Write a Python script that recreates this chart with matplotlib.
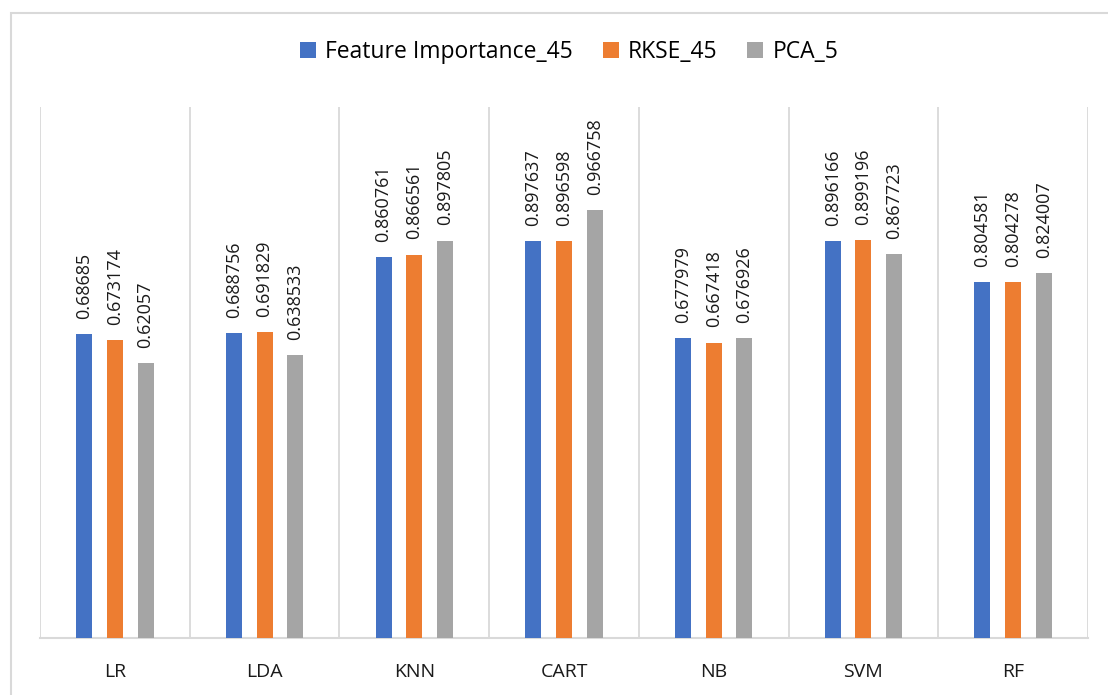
import numpy as np
import matplotlib.pyplot as plt
from matplotlib.patches import Rectangle

# model accuracy per feature-selection method
models = ["LR", "LDA", "KNN", "CART", "NB", "SVM", "RF"]
feature_importance_45 = [0.68685, 0.688756, 0.860761, 0.897637, 0.677979, 0.896166, 0.804581]
rkse_45 = [0.673174, 0.691829, 0.866561, 0.896598, 0.667418, 0.899196, 0.804278]
pca_5 = [0.62057, 0.638533, 0.897805, 0.966758, 0.676926, 0.867723, 0.824007]

series = [
    ("Feature Importance_45", feature_importance_45, "#4472C4"),
    ("RKSE_45", rkse_45, "#ED7D31"),
    ("PCA_5", pca_5, "#A5A5A5"),
]

plt.rcParams["font.family"] = ["Open Sans", "DejaVu Sans"]

fig = plt.figure(figsize=(11.08, 6.95), dpi=100)
ax = fig.add_axes([40 / 1108, 57 / 695, 1048 / 1108, 531 / 695])

x = np.arange(len(models))
width = 0.107
step = 0.205
for i, (name, vals, color) in enumerate(series):
    pos = x + (i - 1) * step
    ax.bar(pos, vals, width=width, color=color, label=name, zorder=3)
    for px, v in zip(pos, vals):
        ax.annotate(str(v), xy=(px, v), xytext=(0, 11),
                    textcoords="offset points", rotation=90,
                    ha="center", va="bottom", fontsize=13, color="#1a1a1a")

ax.set_xlim(-0.5, len(models) - 0.5)
ax.set_ylim(0, 1.2)
ax.set_yticks([])
ax.set_xticks(x)
ax.set_xticklabels(models, fontsize=14)
ax.tick_params(axis="x", length=0, pad=18, colors="#1a1a1a")

# vertical separators between categories
for b in np.arange(-0.5, len(models), 1.0):
    ax.axvline(b, color="#d9d9d9", linewidth=1.3, zorder=1)

for side in ["top", "left", "right"]:
    ax.spines[side].set_visible(False)
ax.spines["bottom"].set_color("#d9d9d9")
ax.spines["bottom"].set_linewidth(1.5)

fig.legend(loc="center", bbox_to_anchor=(569 / 1108, 1 - 52 / 695),
           ncol=3, frameon=False, fontsize=16.5, handlelength=0.7,
           handleheight=0.7, handletextpad=0.4, columnspacing=1.3)

# chart border (cropped on right and bottom)
fig.patches.append(Rectangle((11 / 1108, -0.1), 1.2, 1 - 13 / 695 + 0.1,
                             transform=fig.transFigure, fill=False,
                             edgecolor="#d9d9d9", linewidth=1.5))

fig.savefig("out.png", dpi=100)
